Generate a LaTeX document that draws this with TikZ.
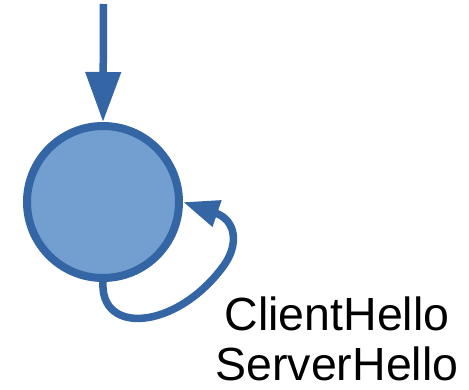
\documentclass[tikz,border=0pt]{standalone}
\usepackage{fontspec}
\setmainfont{Liberation Sans}
\usetikzlibrary{arrows.meta}
\definecolor{stateblue}{HTML}{3465A4}
\definecolor{statefill}{HTML}{729FCF}
\tikzset{
  statenode/.style={circle, draw=stateblue, fill=statefill, line width=8pt, minimum size=152pt, inner sep=0pt},
  entryarrow/.style={draw=stateblue, line width=7.5pt, -{Triangle[length=50pt,width=34pt]}, stateblue},
  looparrow/.style={draw=stateblue, line width=7.5pt, -{Triangle[length=36pt,width=26pt]}, stateblue},
  msglabel/.style={anchor=base, inner sep=0pt, font=\fontsize{46.5}{52}\selectfont}
}
\begin{document}
\begin{tikzpicture}[x=1pt, y=1pt]
  \useasboundingbox (0,0) rectangle (469,-389);
  % state
  \node[statenode] (s) at (103,-202) {};
  % initial transition
  \coordinate (start) at (103.5,-4);
  \draw[entryarrow] (start) -- (s.north);
  % self loop
  \draw[looparrow] (s.south) .. controls (100,-335) and (175,-330) .. (222,-268)
                   .. controls (240,-245) and (236,-220) .. (s.east);
  % transition labels
  \node[msglabel] (l1) at (337,-330) {ClientHello};
  \node[msglabel] (l2) at (337,-380) {ServerHello};
\end{tikzpicture}
\end{document}
